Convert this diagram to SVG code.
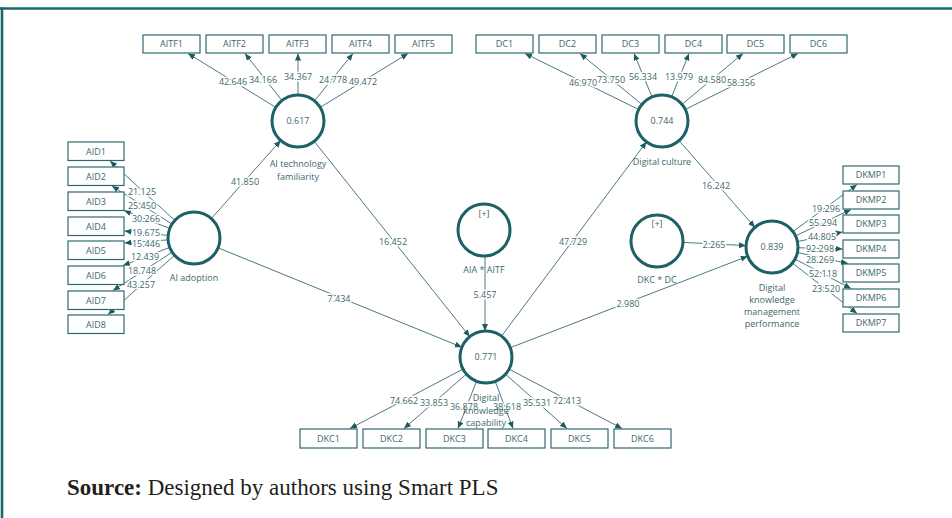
<svg xmlns="http://www.w3.org/2000/svg" width="952" height="518" viewBox="0 0 952 518">
<style>
.frame{stroke:#17686a;stroke-width:2.6;fill:none}
.box{fill:#fff;stroke:#2e6a6e;stroke-width:1.2}
.lv{fill:#fff;stroke:#1b6166;stroke-width:3}
.t{font-family:"Open Sans","Noto Sans",sans-serif;font-size:9px;fill:#3d686c;text-anchor:middle}
.c{stroke:#4f7a7e;stroke-width:1;fill:none;marker-end:url(#ah)}
.lb{font-family:"Open Sans","Noto Sans",sans-serif;font-size:9px;fill:#3d686c;text-anchor:middle;stroke:#fff;stroke-width:3;paint-order:stroke;stroke-linejoin:round}
.src{font-family:"Liberation Serif","Times New Roman",serif;font-size:23px;fill:#231f20}
</style>
<defs>
<marker id="ah" markerUnits="userSpaceOnUse" markerWidth="8" markerHeight="7" refX="7" refY="3" orient="auto">
<path d="M0,0 L7,3 L0,6 z" fill="#1d5a5e"/>
</marker>
</defs>
<rect width="952" height="518" fill="#fff"/>
<line class="frame" x1="0" y1="8.5" x2="952" y2="8.5"/>
<line class="frame" x1="2" y1="7.2" x2="2" y2="518"/>

<g id="connectors">
<!-- AITF outer -->
<line class="c" x1="298" y1="121" x2="188" y2="53.5"/>
<line class="c" x1="298" y1="121" x2="245" y2="53.5"/>
<line class="c" x1="298" y1="121" x2="298" y2="53.5"/>
<line class="c" x1="298" y1="121" x2="353" y2="53.5"/>
<line class="c" x1="298" y1="121" x2="408" y2="53.5"/>
<text class="lb" x="233" y="85">42.646</text>
<text class="lb" x="263" y="83">34.166</text>
<text class="lb" x="298" y="80">34.367</text>
<text class="lb" x="333" y="83">24.778</text>
<text class="lb" x="363" y="85">49.472</text>
<!-- DC outer -->
<line class="c" x1="662" y1="121" x2="525" y2="53.5"/>
<line class="c" x1="662" y1="121" x2="580" y2="53.5"/>
<line class="c" x1="662" y1="121" x2="634" y2="53.5"/>
<line class="c" x1="662" y1="121" x2="689" y2="53.5"/>
<line class="c" x1="662" y1="121" x2="743" y2="53.5"/>
<line class="c" x1="662" y1="121" x2="798" y2="53.5"/>
<text class="lb" x="583" y="86">46.970</text>
<text class="lb" x="611" y="83">73.750</text>
<text class="lb" x="643" y="80">56.334</text>
<text class="lb" x="679" y="80">13.979</text>
<text class="lb" x="712" y="83">84.580</text>
<text class="lb" x="741" y="86">58.356</text>
<!-- AID outer -->
<line class="c" x1="194" y1="238" x2="110" y2="161"/>
<line class="c" x1="194" y1="238" x2="112" y2="186"/>
<line class="c" x1="194" y1="238" x2="124" y2="210.5"/>
<line class="c" x1="194" y1="238" x2="124.5" y2="231"/>
<line class="c" x1="194" y1="238" x2="124.5" y2="243"/>
<line class="c" x1="194" y1="238" x2="123" y2="265.5"/>
<line class="c" x1="194" y1="238" x2="113" y2="290.5"/>
<line class="c" x1="194" y1="238" x2="108" y2="314.5"/>
<text class="lb" x="142" y="195">21.125</text>
<text class="lb" x="142" y="208.5">25.450</text>
<text class="lb" x="146" y="222">30.266</text>
<text class="lb" x="146" y="236">19.675</text>
<text class="lb" x="146" y="246.5">15.446</text>
<text class="lb" x="145" y="259.5">12.439</text>
<text class="lb" x="142" y="274">18.748</text>
<text class="lb" x="141" y="288">43.257</text>
<!-- DKMP outer -->
<line class="c" x1="772" y1="247" x2="857" y2="184.5"/>
<line class="c" x1="772" y1="247" x2="851" y2="209.5"/>
<line class="c" x1="772" y1="247" x2="842.5" y2="232"/>
<line class="c" x1="772" y1="247" x2="842.5" y2="249"/>
<line class="c" x1="772" y1="247" x2="848" y2="263.5"/>
<line class="c" x1="772" y1="247" x2="851" y2="288.5"/>
<line class="c" x1="772" y1="247" x2="857" y2="313.5"/>
<text class="lb" x="826" y="212">19.296</text>
<text class="lb" x="823" y="226">55.294</text>
<text class="lb" x="822" y="240">44.805</text>
<text class="lb" x="820" y="252">92.298</text>
<text class="lb" x="820" y="263">28.269</text>
<text class="lb" x="823" y="277">52.118</text>
<text class="lb" x="826" y="292">23.520</text>
<!-- DKC outer -->
<line class="c" x1="486" y1="357" x2="350" y2="428.5"/>
<line class="c" x1="486" y1="357" x2="404" y2="428.5"/>
<line class="c" x1="486" y1="357" x2="458" y2="428.5"/>
<line class="c" x1="486" y1="357" x2="513" y2="428.5"/>
<line class="c" x1="486" y1="357" x2="567" y2="428.5"/>
<line class="c" x1="486" y1="357" x2="622" y2="428.5"/>
<text class="lb" x="404" y="404">74.662</text>
<text class="lb" x="434" y="406">33.853</text>
<text class="lb" x="464" y="410">36.878</text>
<text class="lb" x="507" y="410">38.618</text>
<text class="lb" x="537" y="406">35.531</text>
<text class="lb" x="567" y="404">72.413</text>
<!-- structural -->
<line class="c" x1="211.3" y1="218.6" x2="280.7" y2="140.4"/>
<text class="lb" x="245" y="185">41.850</text>
<line class="c" x1="314.2" y1="141.3" x2="469.8" y2="336.7"/>
<text class="lb" x="393" y="245">16.452</text>
<line class="c" x1="218.1" y1="247.8" x2="461.9" y2="347.2"/>
<text class="lb" x="339" y="302">7.434</text>
<line class="c" x1="485" y1="256" x2="485" y2="331"/>
<text class="lb" x="485" y="298">5.457</text>
<line class="c" x1="501.5" y1="336.2" x2="646.5" y2="141.8"/>
<text class="lb" x="573" y="245">47.729</text>
<line class="c" x1="679.1" y1="140.6" x2="754.9" y2="227.4"/>
<text class="lb" x="716" y="189">16.242</text>
<line class="c" x1="683" y1="242.4" x2="746" y2="245.6"/>
<text class="lb" x="714" y="247.5">2.265</text>
<line class="c" x1="510.3" y1="347.7" x2="747.7" y2="256.3"/>
<text class="lb" x="628" y="307">2.980</text>
</g>

<g id="AITF-indicators">
<g id="AITF1"><rect class="box" x="143" y="35" width="57" height="18"/><text class="t" x="171.5" y="47.3">AITF1</text></g>
<g id="AITF2"><rect class="box" x="206" y="35" width="57" height="18"/><text class="t" x="234.5" y="47.3">AITF2</text></g>
<g id="AITF3"><rect class="box" x="269" y="35" width="57" height="18"/><text class="t" x="297.5" y="47.3">AITF3</text></g>
<g id="AITF4"><rect class="box" x="332" y="35" width="57" height="18"/><text class="t" x="360.5" y="47.3">AITF4</text></g>
<g id="AITF5"><rect class="box" x="395" y="35" width="57" height="18"/><text class="t" x="423.5" y="47.3">AITF5</text></g>
</g>
<g id="DC-indicators">
<g id="DC1"><rect class="box" x="476" y="35" width="57" height="18"/><text class="t" x="504.5" y="47.3">DC1</text></g>
<g id="DC2"><rect class="box" x="539" y="35" width="57" height="18"/><text class="t" x="567.5" y="47.3">DC2</text></g>
<g id="DC3"><rect class="box" x="602" y="35" width="57" height="18"/><text class="t" x="630.5" y="47.3">DC3</text></g>
<g id="DC4"><rect class="box" x="665" y="35" width="57" height="18"/><text class="t" x="693.5" y="47.3">DC4</text></g>
<g id="DC5"><rect class="box" x="727" y="35" width="57" height="18"/><text class="t" x="755.5" y="47.3">DC5</text></g>
<g id="DC6"><rect class="box" x="790" y="35" width="57" height="18"/><text class="t" x="818.5" y="47.3">DC6</text></g>
</g>
<g id="AID-indicators">
<g id="AID1"><rect class="box" x="68" y="142" width="56" height="18.5"/><text class="t" x="96" y="154.5">AID1</text></g>
<g id="AID2"><rect class="box" x="68" y="167" width="56" height="18.5"/><text class="t" x="96" y="179.5">AID2</text></g>
<g id="AID3"><rect class="box" x="68" y="192" width="56" height="18.5"/><text class="t" x="96" y="204.5">AID3</text></g>
<g id="AID4"><rect class="box" x="68" y="217" width="56" height="18.5"/><text class="t" x="96" y="229.5">AID4</text></g>
<g id="AID5"><rect class="box" x="68" y="241" width="56" height="18.5"/><text class="t" x="96" y="253.5">AID5</text></g>
<g id="AID6"><rect class="box" x="68" y="266" width="56" height="18.5"/><text class="t" x="96" y="278.5">AID6</text></g>
<g id="AID7"><rect class="box" x="68" y="291" width="56" height="18.5"/><text class="t" x="96" y="303.5">AID7</text></g>
<g id="AID8"><rect class="box" x="68" y="315" width="56" height="18.5"/><text class="t" x="96" y="327.5">AID8</text></g>
</g>
<g id="DKMP-indicators">
<g id="DKMP1"><rect class="box" x="843" y="166" width="56" height="18"/><text class="t" x="871" y="178.3">DKMP1</text></g>
<g id="DKMP2"><rect class="box" x="843" y="191" width="56" height="18"/><text class="t" x="871" y="203.3">DKMP2</text></g>
<g id="DKMP3"><rect class="box" x="843" y="215" width="56" height="18"/><text class="t" x="871" y="227.3">DKMP3</text></g>
<g id="DKMP4"><rect class="box" x="843" y="240" width="56" height="18"/><text class="t" x="871" y="252.3">DKMP4</text></g>
<g id="DKMP5"><rect class="box" x="843" y="264" width="56" height="18"/><text class="t" x="871" y="276.3">DKMP5</text></g>
<g id="DKMP6"><rect class="box" x="843" y="289" width="56" height="18"/><text class="t" x="871" y="301.3">DKMP6</text></g>
<g id="DKMP7"><rect class="box" x="843" y="314" width="56" height="18"/><text class="t" x="871" y="326.3">DKMP7</text></g>
</g>
<g id="DKC-indicators">
<g id="DKC1"><rect class="box" x="300" y="429" width="57" height="19"/><text class="t" x="328.5" y="441.8">DKC1</text></g>
<g id="DKC2"><rect class="box" x="363" y="429" width="57" height="19"/><text class="t" x="391.5" y="441.8">DKC2</text></g>
<g id="DKC3"><rect class="box" x="426" y="429" width="57" height="19"/><text class="t" x="454.5" y="441.8">DKC3</text></g>
<g id="DKC4"><rect class="box" x="488" y="429" width="57" height="19"/><text class="t" x="516.5" y="441.8">DKC4</text></g>
<g id="DKC5"><rect class="box" x="551" y="429" width="57" height="19"/><text class="t" x="579.5" y="441.8">DKC5</text></g>
<g id="DKC6"><rect class="box" x="614" y="429" width="57" height="19"/><text class="t" x="642.5" y="441.8">DKC6</text></g>
</g>

<g id="AITF"><circle class="lv" cx="298" cy="121" r="26"/><text class="t" x="298" y="124.3">0.617</text><text class="t" x="298" y="167">AI technology</text><text class="t" x="298" y="180">familiarity</text></g>
<g id="DC"><circle class="lv" cx="662" cy="121" r="26"/><text class="t" x="662" y="124.3">0.744</text><text class="t" x="662" y="165">Digital culture</text></g>
<g id="AIA"><circle class="lv" cx="194" cy="238" r="26"/><text class="t" x="194" y="281">AI adoption</text></g>
<g id="DKMP"><circle class="lv" cx="772" cy="247" r="26"/><text class="t" x="772" y="250.3">0.839</text><text class="t" x="772" y="291">Digital</text><text class="t" x="772" y="303">knowledge</text><text class="t" x="772" y="315">management</text><text class="t" x="772" y="327">performance</text></g>
<g id="DKC"><circle class="lv" cx="486" cy="357" r="26"/><text class="t" x="486" y="360.3">0.771</text><text class="t" x="486" y="401">Digital</text><text class="t" x="486" y="414">knowledge</text><text class="t" x="486" y="426">capability</text></g>
<g id="AIAxAITF"><circle class="lv" cx="484" cy="230" r="26"/><text class="t" x="484" y="217">[+]</text><text class="t" x="484" y="273">AIA * AITF</text></g>
<g id="DKCxDC"><circle class="lv" cx="657" cy="241" r="26"/><text class="t" x="657" y="227">[+]</text><text class="t" x="657" y="283">DKC * DC</text></g>

<text class="src" x="67" y="495"><tspan font-weight="bold">Source:</tspan> Designed by authors using Smart PLS</text>
</svg>
